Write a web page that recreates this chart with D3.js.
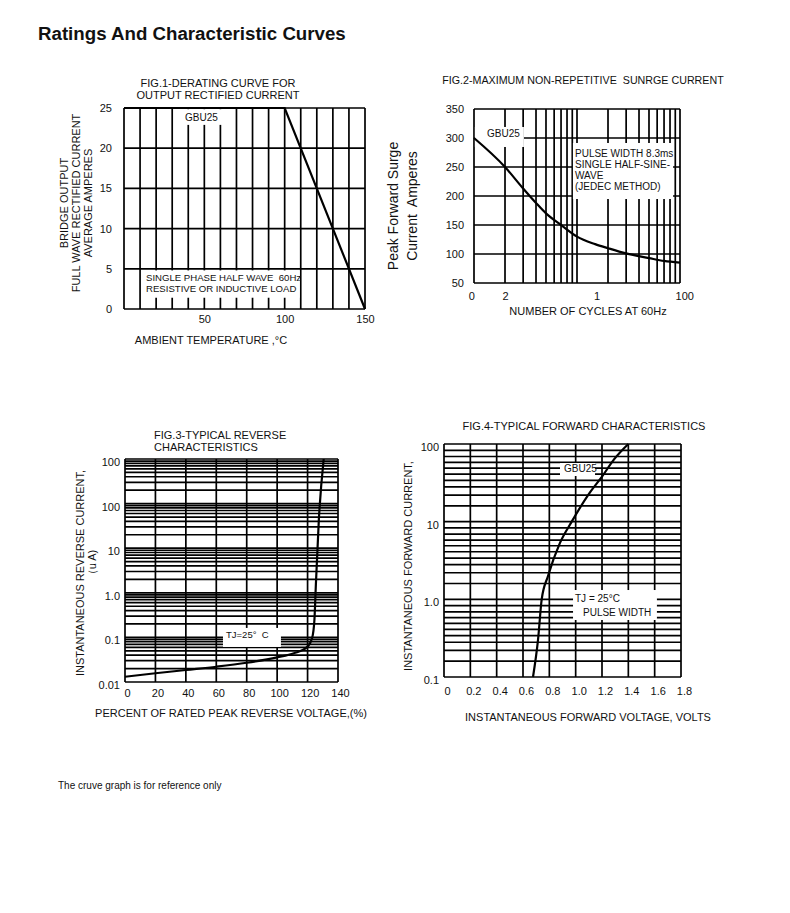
<!DOCTYPE html>
<html>
<head>
<meta charset="utf-8">
<script src="https://d3js.org/d3.v7.min.js"></script>
<style>
  body { margin: 0; background: #fff; }
  svg text { font-family: "Liberation Sans", Arial, sans-serif; fill: #111; white-space: pre; }
</style>
</head>
<body>
<svg id="sheet" width="790" height="913"></svg>
<script>
// fig.1 derating curve
var deratingTemp = [0, 100, 150];
var deratingAmps = [25, 25, 0];
var fig1XTicks = [50, 100, 150];
var fig1YTicks = [0, 5, 10, 15, 20, 25];

// fig.2 surge current vs number of cycles
var surgeCycles = [1, 2, 3, 4, 5, 7, 10, 15, 20, 30, 50, 70, 100];
var surgeAmps = [300, 250, 213, 188, 170, 150, 130, 117, 110, 101, 93, 88, 85];
var fig2YTicks = [50, 100, 150, 200, 250, 300, 350];
var fig2XTickVals = [0.94, 2, 15.5, 110];
var fig2XTickText = ["0", "2", "1", "100"];

// fig.3 reverse leakage
var reversePct = [0, 20, 40, 60, 80, 100, 111, 120, 123, 124.5, 125.4, 127.4, 130.6];
var reverseUA = [0.0131, 0.0157, 0.0186, 0.022, 0.027, 0.0357, 0.044, 0.062, 0.097, 0.245, 1.37, 43, 1000];
var fig3XTicks = [0, 20, 40, 60, 80, 100, 120, 140];
var fig3YTickVals = [0.01, 0.1, 1, 10, 100, 1000];
var fig3YTickText = ["0.01", "0.1", "1.0", "10", "100", "100"];

// fig.4 forward characteristics
var forwardVolts = [0.676, 0.714, 0.742, 0.79, 0.88, 0.97, 1.11, 1.2, 1.29, 1.4];
var forwardAmps = [0.1, 0.3, 1.0, 2, 5.3, 10, 24, 38, 63, 100];
var fig4XTicks = [0, 0.2, 0.4, 0.6, 0.8, 1.0, 1.2, 1.4, 1.6, 1.8];
var fig4YTickVals = [0.1, 1, 10, 100];
var fig4YTickText = ["0.1", "1.0", "10", "100"];
var fig4GridSteps = [1, 1.6, 2.2, 2.8, 3.4, 4.1, 4.9, 5.8, 6.9, 8.3];

var svg = d3.select("#sheet");
var GRID = 1.7;

function txt(g, s, x, y, o) {
    o = o || {};
    var t = g.append("text")
        .attr("x", x).attr("y", y)
        .attr("dy", "0.35em")
        .attr("font-size", o.size || 11)
        .attr("text-anchor", o.anchor || "start")
        .text(s);
    if (o.rotate) t.attr("transform", "rotate(-90," + x + "," + y + ")");
    if (o.weight) t.attr("font-weight", o.weight);
    return t;
}

function vGrid(g, x, y, vals) {
    g.append("g").selectAll("line").data(vals).join("line")
        .attr("x1", d => x(d)).attr("x2", d => x(d))
        .attr("y1", y.range()[0]).attr("y2", y.range()[1])
        .attr("stroke", "#000").attr("stroke-width", GRID);
}
function hGrid(g, x, y, vals) {
    g.append("g").selectAll("line").data(vals).join("line")
        .attr("y1", d => y(d)).attr("y2", d => y(d))
        .attr("x1", x.range()[0]).attr("x2", x.range()[1])
        .attr("stroke", "#000").attr("stroke-width", GRID);
}
function box(g, x, y, x0, x1, y0, y1) {
    g.append("rect")
        .attr("x", x(x0)).attr("y", y(y1))
        .attr("width", x(x1) - x(x0)).attr("height", y(y0) - y(y1))
        .attr("fill", "#fff");
}
function curve(g, x, y, xs, ys, kind) {
    var pts = xs.map((v, i) => [v, ys[i]]);
    g.append("path")
        .attr("d", d3.line().x(d => x(d[0])).y(d => y(d[1])).curve(kind || d3.curveMonotoneX)(pts))
        .attr("fill", "none").attr("stroke", "#000").attr("stroke-width", 2.2);
}
function yAxis(g, y, xPos, vals, fmt, dy) {
    var ax = g.append("g").attr("transform", "translate(" + xPos + "," + (dy || 0) + ")")
        .call(d3.axisLeft(y).tickValues(vals).tickFormat(fmt).tickSize(0).tickPadding(0));
    ax.select(".domain").remove();
    ax.selectAll("text").attr("font-size", 11).attr("fill", "#111")
        .attr("font-family", "Liberation Sans, Arial, sans-serif");
}
function xAxis(g, x, yPos, vals, fmt, dx) {
    var ax = g.append("g").attr("transform", "translate(" + (dx || 0) + "," + yPos + ")")
        .call(d3.axisBottom(x).tickValues(vals).tickFormat(fmt).tickSize(0).tickPadding(0));
    ax.select(".domain").remove();
    ax.selectAll("text").attr("font-size", 11).attr("fill", "#111").attr("dy", "0.35em")
        .attr("font-family", "Liberation Sans, Arial, sans-serif");
}

// page title + footer
txt(svg, "Ratings And Characteristic Curves", 38, 33, {size: 18.7, weight: "bold"});
txt(svg, "The cruve graph is for reference only", 58, 785, {size: 10});

// ---------- FIG 1 ----------
(function () {
    var g = svg.append("g");
    var x = d3.scaleLinear().domain([0, 150]).range([124, 365]);
    var y = d3.scaleLinear().domain([0, 25]).range([309, 108]);
    vGrid(g, x, y, d3.range(0, 151, 10));
    hGrid(g, x, y, fig1YTicks);
    box(g, x, y, 35, 67, 22.9, 24.85);
    box(g, x, y, 10.6, 109.3, 1.4, 4.8);
    curve(g, x, y, deratingTemp, deratingAmps, d3.curveLinear);
    txt(g, "GBU25", 185, 117, {size: 10});
    txt(g, "SINGLE PHASE HALF WAVE  60Hz", 146, 278, {size: 9.6});
    txt(g, "RESISTIVE OR INDUCTIVE LOAD", 146, 289, {size: 9.6});
    yAxis(g, y, 112, fig1YTicks, d => d);
    xAxis(g, x, 319, fig1XTicks, d => d);
    txt(g, "FIG.1-DERATING CURVE FOR", 218, 83, {anchor: "middle"});
    txt(g, "OUTPUT RECTIFIED CURRENT", 218, 95, {anchor: "middle"});
    txt(g, "AMBIENT TEMPERATURE ,°C", 211, 340, {anchor: "middle"});
    txt(g, "BRIDGE OUTPUT", 64, 203, {anchor: "middle", rotate: true});
    txt(g, "FULL WAVE RECTIFIED CURRENT", 76, 203, {anchor: "middle", rotate: true});
    txt(g, "AVERAGE AMPERES", 88, 203, {anchor: "middle", rotate: true});
})();

// ---------- FIG 2 ----------
(function () {
    var g = svg.append("g");
    var x = d3.scaleLog().domain([1, 100]).range([474, 680]);
    var y = d3.scaleLinear().domain([50, 350]).range([283, 109]);
    var xg = d3.range(1, 10).concat(d3.range(10, 101, 10));
    vGrid(g, x, y, xg);
    hGrid(g, x, y, fig2YTicks);
    box(g, x, y, 1.02, 3.05, 284.5, 319);
    box(g, x, y, 9.13, 85.6, 194.8, 291.4);
    curve(g, x, y, surgeCycles, surgeAmps);
    txt(g, "GBU25", 487, 133, {size: 10});
    ["PULSE WIDTH 8.3ms", "SINGLE HALF-SINE-", "WAVE", "(JEDEC METHOD)"].forEach(function (s, i) {
        txt(g, s, 575, 153 + i * 11, {size: 10});
    });
    yAxis(g, y, 464, fig2YTicks, d => d);
    xAxis(g, x, 296, fig2XTickVals, (d, i) => fig2XTickText[i]);
    txt(g, "FIG.2-MAXIMUM NON-REPETITIVE  SUNRGE CURRENT", 583, 80, {anchor: "middle", size: 10.7});
    txt(g, "NUMBER OF CYCLES AT 60Hz", 588, 311, {anchor: "middle"});
    txt(g, "Peak Forward Surge", 393, 206, {anchor: "middle", rotate: true, size: 14});
    txt(g, "Current  Amperes", 412, 206, {anchor: "middle", rotate: true, size: 14});
})();

// ---------- FIG 3 ----------
(function () {
    var g = svg.append("g");
    var x = d3.scaleLinear().domain([0, 140]).range([125, 338]);
    var y = d3.scaleLog().domain([0.01, 1000]).range([682, 459]);
    var yg = [];
    [0.01, 0.1, 1, 10, 100].forEach(function (dec) {
        for (var k = 1; k < 10; k++) yg.push(k * dec);
    });
    yg.push(1000);
    hGrid(g, x, y, yg);
    vGrid(g, x, y, fig3XTicks);
    box(g, x, y, 64.4, 102.5, 0.061, 0.163);
    curve(g, x, y, reversePct, reverseUA);
    txt(g, "TJ=25°  C", 226, 635, {size: 9.5});
    yAxis(g, y, 120, fig3YTickVals, (d, i) => fig3YTickText[i], 3);
    xAxis(g, x, 693, fig3XTicks, d => d, 2);
    txt(g, "FIG.3-TYPICAL REVERSE", 154, 435);
    txt(g, "CHARACTERISTICS", 154, 447);
    txt(g, "PERCENT OF RATED PEAK REVERSE VOLTAGE,(%)", 231, 713, {anchor: "middle"});
    txt(g, "INSTANTANEOUS REVERSE CURRENT,", 80, 573, {anchor: "middle", rotate: true});
    txt(g, "（u A)", 92, 565, {anchor: "middle", rotate: true});
})();

// ---------- FIG 4 ----------
(function () {
    var g = svg.append("g");
    var x = d3.scaleLinear().domain([0, 1.8]).range([444, 681]);
    var y = d3.scaleLog().domain([0.1, 100]).range([677, 444]);
    var yg = [];
    [0.1, 1, 10].forEach(function (dec) {
        fig4GridSteps.forEach(function (k) { yg.push(k * dec); });
    });
    yg.push(100);
    hGrid(g, x, y, yg);
    vGrid(g, x, y, fig4XTicks);
    box(g, x, y, 0.881, 1.147, 38.7, 56.9);
    box(g, x, y, 0.98, 1.617, 0.542, 1.318);
    curve(g, x, y, forwardVolts, forwardAmps);
    txt(g, "GBU25", 564, 468, {size: 10});
    txt(g, "TJ = 25°C", 575, 598, {size: 10});
    txt(g, "PULSE WIDTH", 583, 612, {size: 10});
    yAxis(g, y, 439, fig4YTickVals, (d, i) => fig4YTickText[i], 3);
    xAxis(g, x, 691, fig4XTicks, d => d === 0 ? "0" : d.toFixed(1), 3);
    txt(g, "FIG.4-TYPICAL FORWARD CHARACTERISTICS", 584, 426, {anchor: "middle"});
    txt(g, "INSTANTANEOUS FORWARD VOLTAGE, VOLTS", 588, 717, {anchor: "middle"});
    txt(g, "INSTANTANEOUS FORWARD CURRENT,", 408, 566, {anchor: "middle", rotate: true});
})();
</script>
</body>
</html>
